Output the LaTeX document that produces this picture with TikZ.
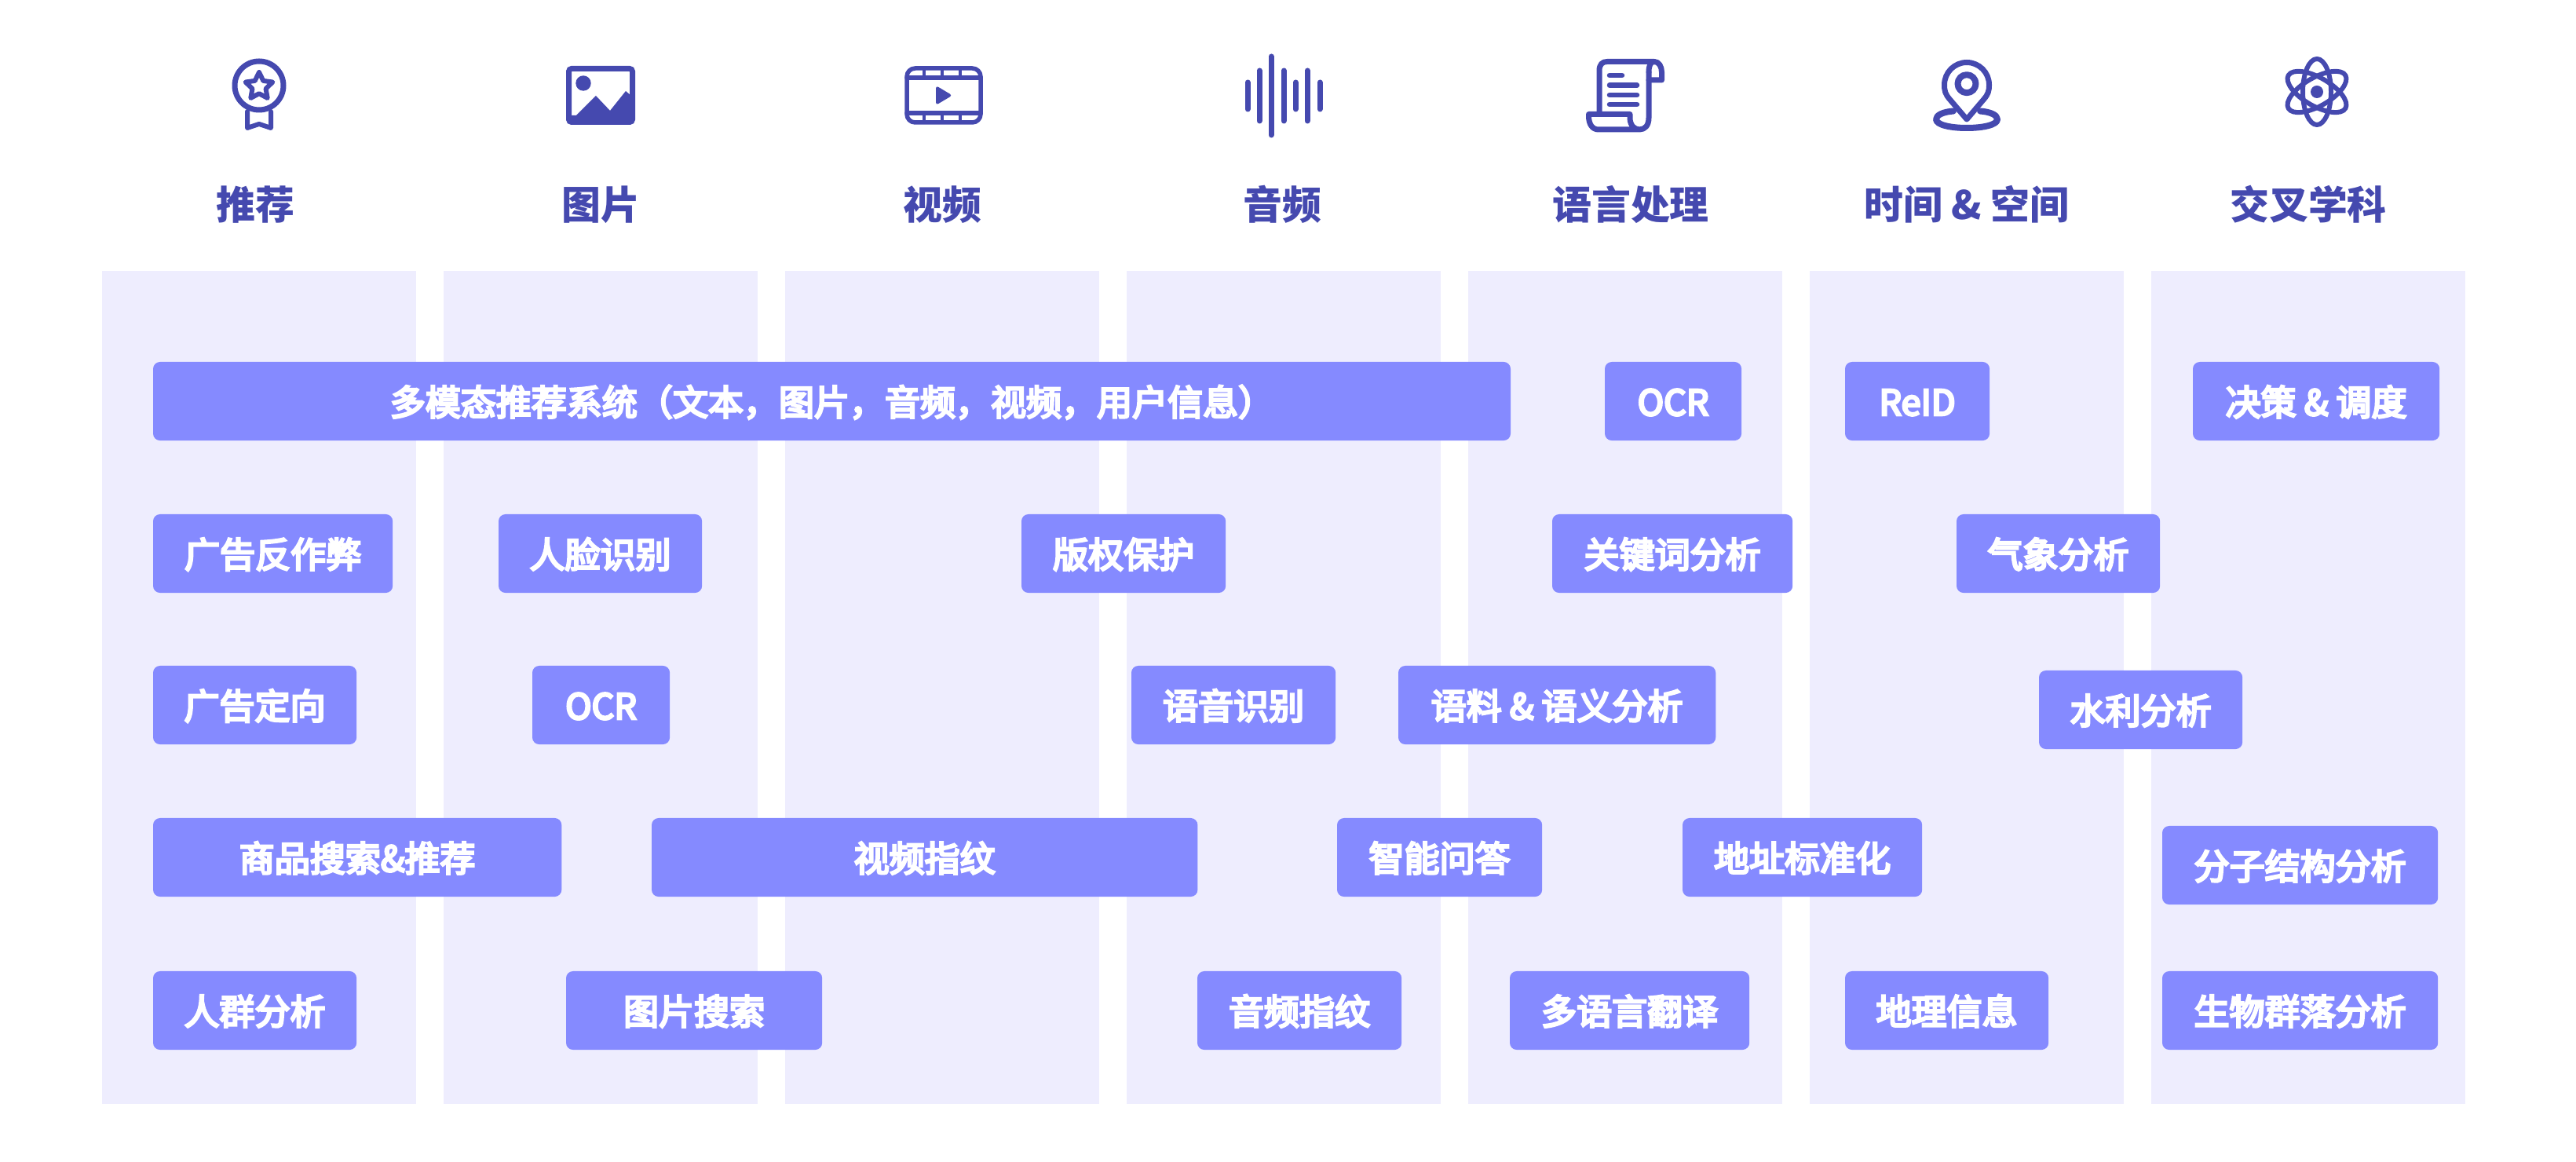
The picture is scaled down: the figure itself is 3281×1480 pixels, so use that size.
\documentclass[tikz,border=0pt]{standalone}
\usepackage{fontspec}
\setmainfont{Noto Sans CJK SC}
\newfontface\tagfont{Noto Sans CJK SC}[FakeBold=6]
\usetikzlibrary{positioning}
\definecolor{inkblue}{HTML}{4549AF}
\definecolor{lanebg}{HTML}{EEEDFE}
\definecolor{tagblue}{HTML}{858AFF}
\tikzset{
  x=0.01cm,y=-0.01cm,
  lane/.style={fill=lanebg,draw=none},
  tag/.style={fill=tagblue,rounded corners=2.5pt,anchor=north west,minimum height=1cm,inner sep=0pt,outer sep=0pt,
    text=white,font=\fontsize{12.8pt}{14pt}\tagfont,text height=0.42cm,text depth=0.06cm},
  head/.style={text=inkblue,inner sep=0pt,font=\fontsize{14.2pt}{16pt}\selectfont\bfseries,text height=0.38cm,text depth=0.06cm},
  icon/.style={draw=inkblue,line width=0.065cm,line join=round,line cap=round},
  solid ink/.style={fill=inkblue,draw=none},
}
\begin{document}
\begin{tikzpicture}
\useasboundingbox (0,0) rectangle (3281,1480);

% columns
\foreach \x in {130,565,1000,1435,1870,2305,2740}
  \fill[lane] (\x,345) rectangle +(400,1061);

% headings
\node[head] (hrec) at (325,264) {推荐};
\node[head] (himg) at (765,264) {图片};
\node[head] (hvid) at (1200,264) {视频};
\node[head] (haud) at (1633,264) {音频};
\node[head] (hlang) at (2077,264) {语言处理};
\node[head] (hgeo) at (2505,264) {时间 \& 空间};
\node[head] (hsci) at (2940,264) {交叉学科};

% medal
\draw[icon,line width=0.07cm] (330,109) circle (31);
\draw[icon,line width=0.06cm] (315,142) -- (315,163) -- (330,158) -- (345,163) -- (345,142);
\draw[icon,line width=0.06cm] (330,92)
  \foreach \a in {1,2,3,4,5} { -- ({330+9*sin(36+(\a-1)*72)},{110.2-9*cos(36+(\a-1)*72)}) -- ({330+18.2*sin(\a*72)},{110.2-18.2*cos(\a*72)}) };

% picture
\draw[draw=inkblue,line width=0.07cm,rounded corners=1pt] (724.5,87.5) rectangle (805.5,155.5);
\fill[solid ink] (743,106) circle (9.7);
\fill[solid ink] (726,147) -- (734,147) -- (759,122) -- (777,141) -- (797,116) -- (804,122) -- (804,157) -- (726,157) -- cycle;

% film strip
\draw[icon,line width=0.055cm,rounded corners=3pt] (1155,87) rectangle (1249,156);
\draw[icon,line width=0.055cm] (1155,99) -- (1249,99) (1155,144) -- (1249,144);
\foreach \x in {1177,1200,1223} {
  \draw[icon,line width=0.04cm] (\x,87) -- (\x,99);
  \draw[icon,line width=0.04cm] (\x,144) -- (\x,156);
}
\fill[solid ink,rounded corners=1pt] (1192,109) -- (1213,121.5) -- (1192,134) -- cycle;

% sound bars
\foreach \x/\h in {1589/17,1604/32,1619/50,1635/32,1650/17,1665/32,1681/17}
  \draw[icon,line width=0.07cm] (\x,122-\h) -- (\x,122+\h);

% scroll
\draw[icon,line width=0.07cm] (2037,145) -- (2037,90) .. controls (2037,82) and (2041,78.5) .. (2047,78.5) -- (2107,78.5)
  .. controls (2113,78.5) and (2116.5,85) .. (2116.5,92) -- (2116.5,102) -- (2100,102);
\draw[icon,line width=0.07cm] (2100,92) .. controls (2100,84) and (2102,78.5) .. (2107,78.5);
\draw[icon,line width=0.07cm] (2100,92) -- (2100,150) .. controls (2100,160) and (2095,165) .. (2088,165)
  -- (2036,165) .. controls (2028,165) and (2023.5,158) .. (2023.5,148) -- (2023.5,145.5) -- (2076,145.5)
  -- (2076,150) .. controls (2076,160) and (2082,165) .. (2088,165);
\draw[icon,line width=0.065cm] (2050,96) -- (2066,96) (2050,108.5) -- (2085,108.5)
  (2050,121) -- (2085,121) (2050,133) -- (2085,133);

% pin
\draw[icon,line width=0.07cm] (2505,152) -- (2483.3,126.5) .. controls (2477.9,120.15) and (2476.5,116.35) .. (2476.5,108)
  .. controls (2476.5,92.3) and (2489.3,79.5) .. (2505,79.5) .. controls (2520.7,79.5) and (2533.5,92.3) .. (2533.5,108)
  .. controls (2533.5,116.35) and (2532.1,120.15) .. (2526.7,126.5) -- cycle;
\draw[icon,line width=0.08cm] (2505,106.7) circle (11.5);
\draw[icon,line width=0.08cm] (2488,141.5) .. controls (2475,142.5) and (2466,146.5) .. (2466,152)
  .. controls (2466,159) and (2484,163) .. (2505,163) .. controls (2526,163) and (2544,159) .. (2544,152)
  .. controls (2544,146.5) and (2535,142.5) .. (2522,141.5);

% atom
\foreach \a in {0,60,120}
  \draw[icon,line width=0.06cm,rotate around={\a:(2951,117)}] (2951,117) ellipse (18 and 42);
\fill[solid ink] (2951,117) circle (8);

% first row
\node[tag,minimum width=17.28cm] (multi) at (195,461) {多模态推荐系统（文本，图片，音频，视频，用户信息）};
\node[tag,minimum width=1.74cm] (ocrlang) at (2044,461) {OCR};
\node[tag,minimum width=1.84cm] (reid) at (2350,461) {ReID};
\node[tag,minimum width=3.14cm] (decide) at (2793,461) {决策 \& 调度};

% second row
\node[tag,minimum width=3.05cm] (fraud) at (195,655) {广告反作弊};
\node[tag,minimum width=2.59cm] (face) at (635,655) {人脸识别};
\node[tag,minimum width=2.6cm] (copyright) at (1301,655) {版权保护};
\node[tag,minimum width=3.06cm] (keyword) at (1977,655) {关键词分析};
\node[tag,minimum width=2.59cm] (weather) at (2492,655) {气象分析};

% third row
\node[tag,minimum width=2.59cm] (adtarget) at (195,848) {广告定向};
\node[tag,minimum width=1.75cm] (ocrimg) at (678,848) {OCR};
\node[tag,minimum width=2.6cm] (speech) at (1441,848) {语音识别};
\node[tag,minimum width=4.04cm] (corpus) at (1781,848) {语料 \& 语义分析};
\node[tag,minimum width=2.59cm] (water) at (2597,854) {水利分析};

% fourth row
\node[tag,minimum width=5.2cm] (goods) at (195,1042) {商品搜索\&推荐};
\node[tag,minimum width=6.95cm] (vidprint) at (830,1042) {视频指纹};
\node[tag,minimum width=2.61cm] (qa) at (1703,1042) {智能问答};
\node[tag,minimum width=3.05cm] (address) at (2143,1042) {地址标准化};
\node[tag,minimum width=3.51cm] (molecule) at (2754,1052) {分子结构分析};

% fifth row
\node[tag,minimum width=2.59cm] (crowd) at (195,1237) {人群分析};
\node[tag,minimum width=3.26cm] (imgsearch) at (721,1237) {图片搜索};
\node[tag,minimum width=2.6cm] (audprint) at (1525,1237) {音频指纹};
\node[tag,minimum width=3.05cm] (translate) at (1923,1237) {多语言翻译};
\node[tag,minimum width=2.59cm] (geoinfo) at (2350,1237) {地理信息};
\node[tag,minimum width=3.51cm] (biome) at (2754,1237) {生物群落分析};
\end{tikzpicture}
\end{document}
